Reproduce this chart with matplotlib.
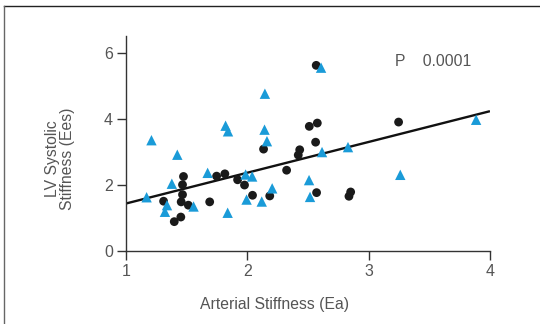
import matplotlib
matplotlib.use("Agg")
import matplotlib.pyplot as plt
from matplotlib.lines import Line2D

# -----------------------------
# Data
# -----------------------------
circle_x = [2.568, 3.247, 2.511, 2.577, 2.563, 2.134, 2.432, 2.420, 2.324,
            1.747, 1.815, 1.920, 1.977, 1.474, 1.466, 1.466, 1.455, 1.514,
            1.310, 1.690, 1.398, 1.452, 2.043, 2.185, 2.571, 2.838, 2.852]
circle_y = [5.63, 3.91, 3.78, 3.88, 3.30, 3.09, 3.07, 2.91, 2.45,
            2.27, 2.34, 2.16, 2.00, 2.26, 2.01, 1.71, 1.49, 1.39,
            1.51, 1.49, 0.89, 1.03, 1.69, 1.67, 1.77, 1.66, 1.79]

tri_x = [2.608, 2.145, 1.821, 1.841, 2.142, 2.162, 1.210, 1.423, 3.886,
         2.830, 2.616, 3.261, 2.509, 2.517, 2.205, 2.040, 1.986, 1.994,
         2.119, 1.838, 1.673, 1.557, 1.378, 1.338, 1.321, 1.170]
tri_y = [5.56, 4.77, 3.80, 3.63, 3.68, 3.33, 3.36, 2.92, 3.98,
         3.15, 3.00, 2.31, 2.15, 1.64, 1.90, 2.26, 2.32, 1.56,
         1.50, 1.16, 2.37, 1.35, 2.04, 1.39, 1.19, 1.63]

# regression line end points
fit_x = [1.0, 4.0]
fit_y = [1.44, 4.24]

x_ticks = [1, 2, 3, 4]
y_ticks = [0, 2, 4, 6]

BLUE = "#1a9bd8"
TXT = "#555555"
AX = "#333333"

plt.rcParams["font.family"] = ["Liberation Sans", "DejaVu Sans"]

fig = plt.figure(figsize=(5.4, 3.24), dpi=100)
ax = fig.add_axes([0.2333, 0.2253, 0.674, 0.6636])

ax.plot(fit_x, fit_y, color="#111111", lw=1.7, zorder=2, solid_capstyle="butt")
ax.scatter(circle_x, circle_y, s=40, marker="o", color="#1a1a1a",
           edgecolors="none", zorder=3)
ax.scatter(tri_x, tri_y, s=56, marker="^", color=BLUE,
           edgecolors="none", zorder=4)

ax.set_xlim(1, 4)
ax.set_ylim(0, 6.52)
ax.set_xticks(x_ticks)
ax.set_yticks(y_ticks)

for s in ["top", "right"]:
    ax.spines[s].set_visible(False)
for s in ["left", "bottom"]:
    ax.spines[s].set_color(AX)
    ax.spines[s].set_linewidth(1.0)

ax.tick_params(direction="out", length=6.5, width=1.0, color=AX,
               labelcolor=TXT, labelsize=11.5, pad=3)

ax.set_xlabel("Arterial Stiffness (Ea)", fontsize=11.3, color=TXT)
ax.xaxis.set_label_coords(0.407, -0.215)
ax.set_ylabel("LV Systolic\nStiffness (Ees)", fontsize=11.3, color=TXT,
              linespacing=1.0)
ax.yaxis.set_label_coords(-0.14, 0.43)

ax.text(3.22, 5.74, "P    0.0001", fontsize=11.3, color=TXT, va="center")

# outer frame (top and left edges)
fig.add_artist(Line2D([4/540, 1.0], [1 - 6/324, 1 - 6/324],
                      transform=fig.transFigure, color="#222222", lw=1.0))
fig.add_artist(Line2D([4/540, 4/540], [0.0, 1 - 6/324],
                      transform=fig.transFigure, color="#666666", lw=1.0))

fig.savefig("out.png", dpi=100)
